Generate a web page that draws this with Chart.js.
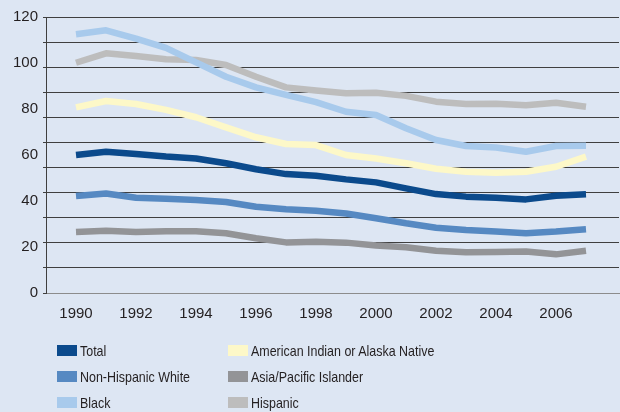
<!DOCTYPE html>
<html><head><meta charset="utf-8">
<script src="https://cdn.jsdelivr.net/npm/chart.js@4/dist/chart.umd.min.js"></script>
<style>
html,body{margin:0;padding:0;background:#dde6f3;}
#wrap{position:relative;width:620px;height:412px;overflow:hidden;background:#dde6f3;}
#c{position:absolute;left:0;top:0;}
#legend{position:absolute;left:0;top:0;width:620px;height:412px;pointer-events:none;font-family:"Liberation Sans",Arial,sans-serif;font-size:15px;color:#231f20;}
.item{position:absolute;display:flex;align-items:center;white-space:nowrap;height:18px;}
.sw{width:20px;height:11px;margin-right:3px;flex:none;}
.tx{display:inline-block;transform:scaleX(0.83);transform-origin:0 50%;}
</style></head><body>
<div id="wrap"><canvas id="c" width="620" height="412"></canvas><div id="legend"></div></div>
<script>
// ---- data ----
const years = [1990,1991,1992,1993,1994,1995,1996,1997,1998,1999,2000,2001,2002,2003,2004,2005,2006,2007];
const xTickLabels = [1990,1992,1994,1996,1998,2000,2002,2004,2006];
const yTickLabels = [0,20,40,60,80,100,120];

const total    = [60.0,61.4,60.4,59.3,58.5,56.4,53.8,51.7,51.0,49.4,48.1,45.5,43.0,41.9,41.4,40.7,42.3,42.9];
const aian     = [80.7,83.5,82.2,79.6,76.4,72.0,67.7,64.8,64.3,60.0,58.5,56.4,54.0,52.7,52.3,52.7,54.9,59.3];
const nhWhite  = [42.2,43.3,41.4,41.0,40.4,39.6,37.5,36.4,35.8,34.6,32.5,30.3,28.4,27.4,26.7,26.0,26.7,27.7];
const asiaPI   = [26.5,27.1,26.5,26.8,26.8,26.0,23.8,22.0,22.3,21.9,20.7,19.9,18.4,17.7,17.8,18.0,16.8,18.4];
const black    = [112.5,114.2,110.6,106.6,100.3,94.0,89.4,86.1,83.0,78.8,77.4,71.6,66.5,63.9,63.3,61.4,63.9,64.0];
const hispanic = [100.1,104.2,103.0,101.6,101.3,99.1,94.0,89.4,88.0,86.8,87.1,85.7,83.2,82.2,82.3,81.6,82.7,81.0];

const seriesNames = ["Total","American Indian or Alaska Native","Non-Hispanic White","Asia/Pacific Islander","Black","Hispanic"];
const seriesData  = [total, aian, nhWhite, asiaPI, black, hispanic];
const seriesColors = ["#0b4a8c","#fdf8c8","#5689c2","#939497","#a8caec","#bdbdbd"];

// gridlines in the original are 11 equal bands over the 0-120 range
const gridBands = 11;
const gridVals = Array.from({length: gridBands + 1}, (_, k) => k * 120 / gridBands);

const near = (a, b) => Math.abs(a - b) < 1e-6;
const isGrid = v => gridVals.some(g => near(g, v));
const isLabel = v => yTickLabels.some(g => near(g, v));

const datasets = seriesNames.map((n, i) => ({
  label: n,
  data: years.map((y, j) => ({x: y, y: seriesData[i][j]})),
  borderColor: seriesColors[i],
  backgroundColor: seriesColors[i],
  borderWidth: 6.5,
  pointRadius: 0,
  tension: 0,
  borderJoinStyle: 'round',
  borderCapStyle: 'butt',
  fill: false
}));

const axisFont = {family: "'Liberation Sans', Arial, sans-serif", size: 15};

new Chart(document.getElementById('c'), {
  type: 'line',
  data: {datasets},
  options: {
    responsive: false,
    animation: false,
    events: [],
    layout: {padding: {left: 0, top: 17, right: 1, bottom: 89}},
    plugins: {legend: {display: false}, tooltip: {enabled: false}},
    scales: {
      x: {
        type: 'linear', min: 1989, max: 2008.1,
        grid: {display: false, drawTicks: false},
        border: {display: true, color: '#8c8c8c', width: 1},
        ticks: {font: axisFont, color: '#231f20', padding: 12, maxRotation: 0, autoSkip: false,
                callback: v => String(v)},
        afterBuildTicks: s => { s.ticks = xTickLabels.map(v => ({value: v})); },
        afterFit: s => { s.height = 30; }
      },
      y: {
        min: 0, max: 120,
        afterBuildTicks: s => {
          const vals = [...new Set([...gridVals, ...yTickLabels].map(v => +v.toFixed(6)))].sort((a, b) => a - b);
          s.ticks = vals.map(v => ({value: v}));
        },
        grid: {
          color: ctx => (ctx.tick && isGrid(ctx.tick.value) && ctx.tick.value > 0.001) ? '#3f3f3f' : 'rgba(0,0,0,0)',
          tickColor: ctx => (ctx.tick && isGrid(ctx.tick.value)) ? '#3f3f3f' : 'rgba(0,0,0,0)',
          tickLength: 3,
          lineWidth: 1,
          drawTicks: true
        },
        border: {display: true, color: '#3f3f3f', width: 1},
        ticks: {font: axisFont, color: '#231f20', padding: 5, autoSkip: false,
                callback: v => isLabel(v) ? String(Math.round(v)) : ''},
        afterFit: s => { s.width = 46; }
      }
    }
  }
});

// HTML legend (2 columns x 3 rows), built from the series
const legend = document.getElementById('legend');
const colX = [57, 228];
const rowY = [350, 376, 402];
seriesNames.forEach((n, i) => {
  const it = document.createElement('div');
  it.className = 'item';
  it.style.left = colX[i % 2] + 'px';
  it.style.top = (rowY[Math.floor(i / 2)] - 9) + 'px';
  const sw = document.createElement('span');
  sw.className = 'sw';
  sw.style.background = seriesColors[i];
  const tx = document.createElement('span');
  tx.className = 'tx';
  tx.textContent = n;
  it.appendChild(sw); it.appendChild(tx);
  legend.appendChild(it);
});
</script>
</body></html>
